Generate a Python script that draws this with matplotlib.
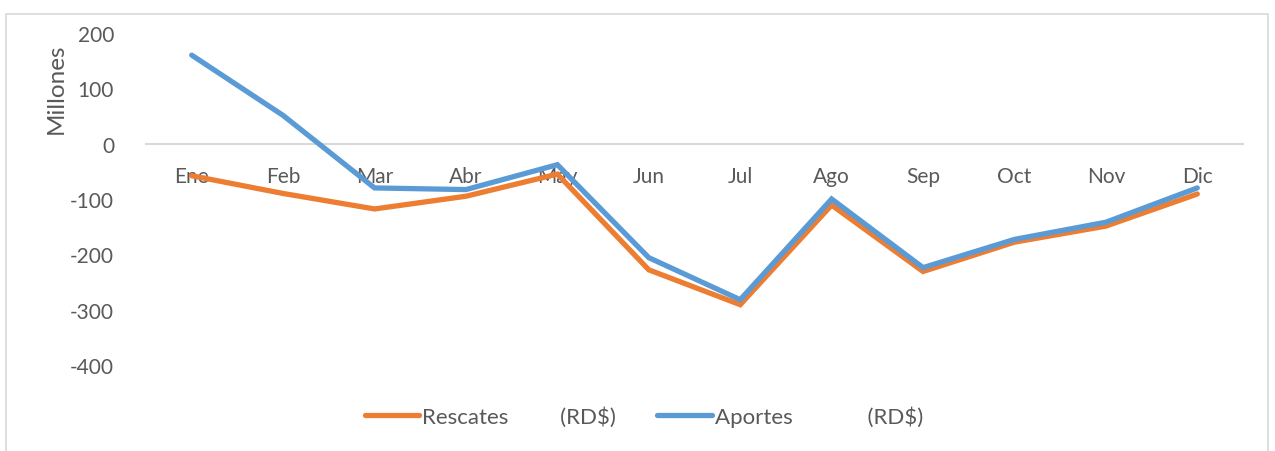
import numpy as np
import matplotlib.pyplot as plt
from matplotlib.patches import Rectangle

meses = ['Ene', 'Feb', 'Mar', 'Abr', 'May', 'Jun',
         'Jul', 'Ago', 'Sep', 'Oct', 'Nov', 'Dic']
rescates = [-58, -90, -118, -95, -55, -228, -291, -111, -231, -178, -149, -91]
aportes = [160, 51, -80, -83, -38, -206, -282, -100, -224, -173, -142, -80]

label_resc = 'Rescates         (RD$)'
label_apor = 'Aportes             (RD$)'

plt.rcParams['font.family'] = ['Lato', 'DejaVu Sans']
plt.rcParams['axes.unicode_minus'] = False
gray_txt = '#595959'

fig = plt.figure(figsize=(12.75, 4.52), dpi=100)
W, H = 1275, 452
ax = fig.add_axes([146 / W, 1 - 366 / H, (1243 - 146) / W, (366 - 34) / H])

x = np.arange(len(meses))
ax.plot(x, rescates, color='#ED7D31', lw=3.8, label=label_resc,
        solid_joinstyle='miter', solid_capstyle='round')
ax.plot(x, aportes, color='#5B9BD5', lw=3.8, label=label_apor,
        solid_joinstyle='miter', solid_capstyle='round')

ax.set_xlim(-0.5, len(meses) - 0.5)
ax.set_ylim(-400, 200)
ax.set_yticks(np.arange(-400, 201, 100))
ax.set_xticks(x)
ax.set_xticklabels(meses)

for s in ['top', 'right', 'left']:
    ax.spines[s].set_visible(False)
ax.spines['bottom'].set_position(('data', 0))
ax.spines['bottom'].set_color('#D9D9D9')
ax.spines['bottom'].set_linewidth(1.5)
ax.spines['bottom'].set_zorder(0)

ax.tick_params(axis='x', length=0, pad=16, labelsize=15, labelcolor=gray_txt)
ax.tick_params(axis='y', length=0, pad=23, labelsize=15, labelcolor=gray_txt)

ax.set_ylabel('Millones', fontsize=17.5, color=gray_txt)
ax.yaxis.set_label_coords(-0.072, 0.835)

leg = fig.legend(loc='center', bbox_to_anchor=(644 / W, 1 - 417 / H), ncol=2,
                 frameon=False, fontsize=16, handlelength=2.45,
                 handletextpad=0.15, columnspacing=1.85)
for t in leg.get_texts():
    t.set_color(gray_txt)

fig.add_artist(Rectangle((6 / W, -0.01), 1262 / W, 1 - 10 / H,
                         transform=fig.transFigure, fill=False,
                         edgecolor='#D9D9D9', lw=1.2))

fig.savefig('out.png', dpi=100)
